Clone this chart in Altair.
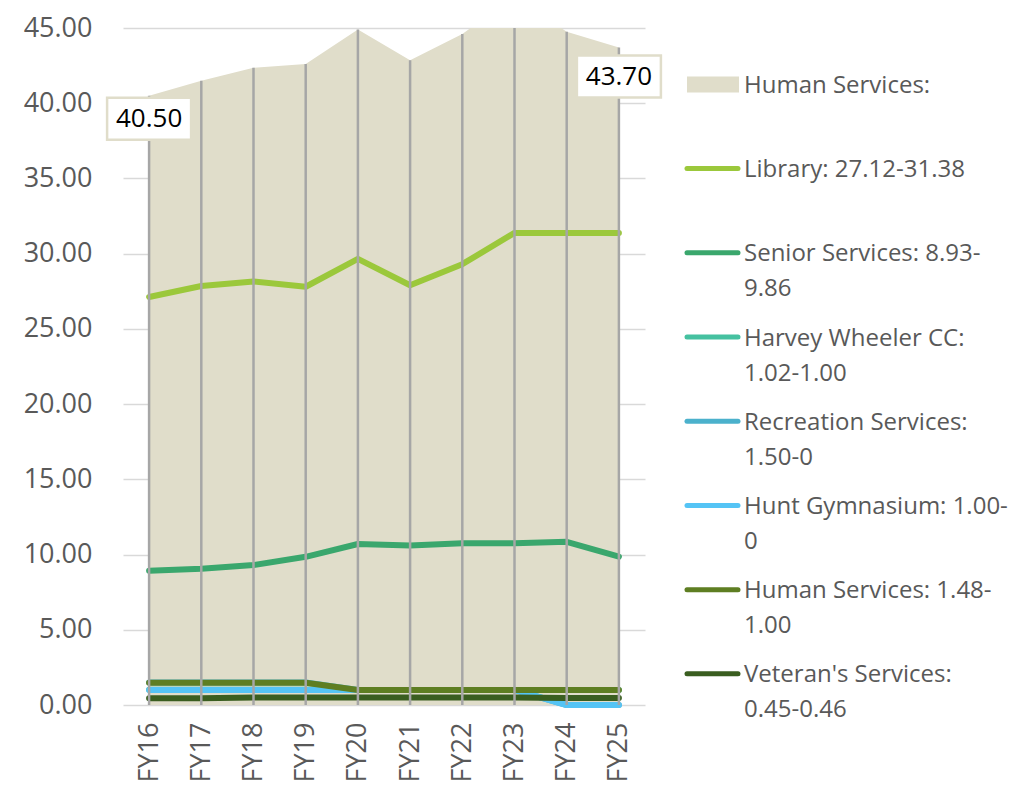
import altair as alt
import pandas as pd

years = ["FY16", "FY17", "FY18", "FY19", "FY20", "FY21", "FY22", "FY23", "FY24", "FY25"]
total = [40.50, 41.50, 42.35, 42.60, 44.90, 42.85, 44.60, 47.10, 44.75, 43.70]
library = [27.12, 27.85, 28.15, 27.80, 29.65, 27.90, 29.30, 31.38, 31.38, 31.38]
senior = [8.93, 9.05, 9.30, 9.85, 10.70, 10.60, 10.75, 10.75, 10.85, 9.86]
harvey = [1.02, 1.02, 1.02, 1.02, 1.00, 1.00, 1.00, 1.00, 1.00, 1.00]
recreation = [1.50, 1.50, 1.50, 1.50, 1.00, 1.00, 1.00, 1.00, 0.00, 0.00]
hunt = [1.00, 1.00, 1.00, 1.00, 1.00, 1.00, 1.00, 1.00, 0.00, 0.00]
human = [1.48, 1.48, 1.48, 1.48, 1.00, 1.00, 1.00, 1.00, 1.00, 1.00]
veterans = [0.45, 0.45, 0.50, 0.50, 0.50, 0.50, 0.50, 0.50, 0.46, 0.46]

series_names = ["Library", "Senior Services", "Harvey Wheeler CC", "Recreation Services",
                "Hunt Gymnasium", "Human Services", "Veteran's Services"]
series_values = [library, senior, harvey, recreation, hunt, human, veterans]
series_colors = ["#9BC83B", "#3AA76D", "#45C1A0", "#4BB1CC", "#55C4F5", "#5E7E22", "#3A5E20"]

area_color = "#E0DDCA"
legend_labels = [
    "Human Services:",
    "Library: 27.12-31.38",
    "Senior Services: 8.93-\n9.86",
    "Harvey Wheeler CC:\n1.02-1.00",
    "Recreation Services:\n1.50-0",
    "Hunt Gymnasium: 1.00-\n0",
    "Human Services: 1.48-\n1.00",
    "Veteran's Services:\n0.45-0.46",
]
label_years = ["FY16", "FY25"]
label_offsets = [23, 29]

FONT = "Open Sans"
GREY = "#595959"

df_total = pd.DataFrame({"year": years, "value": total})

x_enc = alt.X(
    "year:N", sort=years,
    scale=alt.Scale(type="point", padding=0.5),
    axis=alt.Axis(title=None, labelAngle=-90, domain=False, ticks=False, grid=False,
                  labelPadding=17, labelFontSize=27, labelColor=GREY, labelFont=FONT),
)
y_scale = alt.Scale(domain=[0, 45], nice=False)
y_enc = alt.Y(
    "value:Q", scale=y_scale,
    axis=alt.Axis(title=None, values=list(range(0, 50, 5)), format=".2f", domain=False,
                  ticks=False, labelPadding=31, labelFontSize=27, labelColor=GREY,
                  labelFont=FONT, grid=True, gridColor="#D9D9D9", gridWidth=1.5),
)

area = alt.Chart(df_total).mark_area(color=area_color, clip=True).encode(x=x_enc, y=y_enc)

lines = []
for name, vals, col in zip(series_names, series_values, series_colors):
    d = pd.DataFrame({"year": years, "value": vals, "series": name})
    lines.append(
        alt.Chart(d).mark_line(color=col, strokeWidth=6, strokeCap="round", strokeJoin="round")
        .encode(x=x_enc, y=y_enc)
    )

rules = alt.Chart(df_total).mark_rule(color="#A6A6A6", strokeWidth=2.5, clip=True).encode(
    x=x_enc, y=y_enc, y2=alt.datum(0)
)

labels = []
for yr, off in zip(label_years, label_offsets):
    d = df_total[df_total["year"] == yr]
    box = alt.Chart(d).mark_point(
        shape="M -1 -0.5 L 1 -0.5 L 1 0.5 L -1 0.5 Z", size=7056, filled=True,
        fill="white", stroke=area_color, strokeWidth=2.5, opacity=1, yOffset=off,
    ).encode(x=x_enc, y=y_enc)
    txt = alt.Chart(d).mark_text(
        font=FONT, fontSize=26, color="black", align="center", baseline="middle", yOffset=off,
    ).encode(x=x_enc, y=y_enc, text=alt.Text("value:Q", format=".2f"))
    labels += [box, txt]

main = alt.layer(area, *lines, rules, *labels)

leg = pd.DataFrame({
    "idx": list(range(len(legend_labels))),
    "label": legend_labels,
    "color": [area_color] + series_colors,
    "kind": ["area"] + ["line"] * len(series_colors),
})
leg_scale = alt.Scale(domain=[-0.67, 7.37], reverse=True, nice=False, zero=False)
leg_y = alt.Y("idx:Q", scale=leg_scale, axis=None)

swatch = alt.Chart(leg[leg["kind"] == "area"]).mark_rule(strokeWidth=16, strokeCap="butt").encode(
    x=alt.value(564), x2=alt.value(616), y=leg_y, color=alt.Color("color:N", scale=None)
)
leglines = alt.Chart(leg[leg["kind"] == "line"]).mark_rule(strokeWidth=5, strokeCap="round").encode(
    x=alt.value(564), x2=alt.value(615), y=leg_y, color=alt.Color("color:N", scale=None)
)
legtext = alt.Chart(leg).mark_text(
    align="left", baseline="alphabetic", dy=8.5, lineBreak="\n", lineHeight=35,
    fontSize=24, font=FONT, color=GREY,
).encode(x=alt.value(621), y=leg_y, text="label:N")

legend = alt.layer(swatch, leglines, legtext)

chart = (
    alt.layer(main, legend)
    .resolve_scale(y="independent")
    .properties(width=522, height=677, padding={"left": 15, "top": 6, "right": 5, "bottom": 0},
                background="white")
    .configure_view(stroke=None)
)

chart.save("out.html", embed_options={"renderer": "svg", "actions": False})
